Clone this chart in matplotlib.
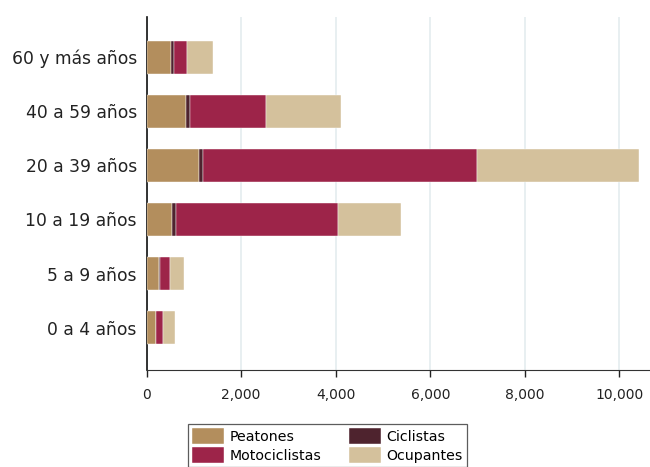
import numpy as np
import matplotlib.pyplot as plt
from matplotlib.ticker import FuncFormatter

plt.rcParams['font.family'] = ['DejaVu Sans']

# Data
grupos = ["0 a 4 años", "5 a 9 años", "10 a 19 años", "20 a 39 años", "40 a 59 años", "60 y más años"]
peatones = [195, 265, 545, 1110, 840, 525]
ciclistas = [8, 10, 72, 78, 78, 50]
motociclistas = [150, 215, 3430, 5800, 1605, 290]
ocupantes = [245, 295, 1330, 3435, 1595, 535]

series = [
    ("Peatones", peatones, "#B38E5D"),
    ("Ciclistas", ciclistas, "#4E232E"),
    ("Motociclistas", motociclistas, "#9D2449"),
    ("Ocupantes", ocupantes, "#D4C19C"),
]

fig = plt.figure(figsize=(6.5, 4.67), dpi=100)
ax = fig.add_axes([146.5 / 650, (467 - 370) / 467, (650 - 146.5) / 650, (370 - 17) / 467])

y = np.arange(len(grupos))
left = np.zeros(len(grupos))
handles = {}
for name, vals, color in series:
    vals = np.array(vals, dtype=float)
    b = ax.barh(y, vals, left=left, height=0.61, color=color, edgecolor="white",
                linewidth=0.3, label=name, zorder=3)
    handles[name] = b
    left += vals

ax.set_yticks(y)
ax.set_yticklabels(grupos, fontsize=12.3, color="#222222")
ax.tick_params(axis="y", length=0, pad=7)
ax.set_xlim(0, 10645)
ax.set_ylim(-0.78, 5.74)
ax.set_xticks([0, 2000, 4000, 6000, 8000, 10000])
ax.xaxis.set_major_formatter(FuncFormatter(lambda v, p: f"{int(v):,}"))
ax.tick_params(axis="x", labelsize=10, length=5, width=1, pad=8, colors="#222222")

ax.grid(axis="x", color="#E6EEF0", linewidth=1.3, zorder=0)
ax.set_axisbelow(True)
for s in ["top", "right"]:
    ax.spines[s].set_visible(False)
ax.spines["left"].set_color("#111111")
ax.spines["bottom"].set_color("#333333")
ax.spines["left"].set_linewidth(1.2)
ax.spines["bottom"].set_linewidth(0.8)

order = ["Peatones", "Motociclistas", "Ciclistas", "Ocupantes"]
leg = fig.legend([handles[n] for n in order], order, ncol=2,
                 loc="upper left", bbox_to_anchor=(181 / 650, 1 - 417 / 467),
                 fontsize=10.2, frameon=True, fancybox=False, edgecolor="#333333",
                 handlelength=2.2, handleheight=1.3, columnspacing=2.0,
                 borderpad=0.3, labelspacing=0.25, handletextpad=0.4)
leg.get_frame().set_linewidth(0.9)

fig.savefig("out.png", dpi=100)
